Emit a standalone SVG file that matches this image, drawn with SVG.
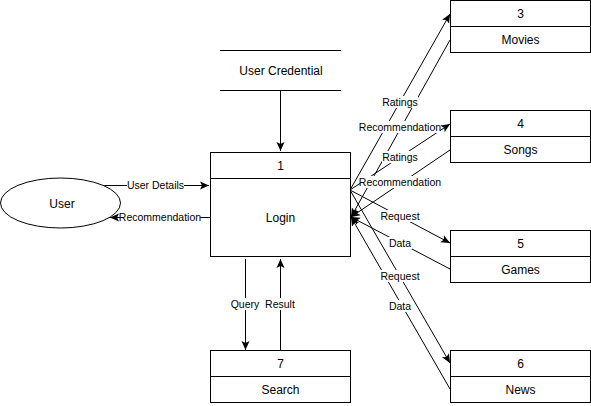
<svg xmlns="http://www.w3.org/2000/svg" width="591" height="406" viewBox="0 0 591 406">
<defs>
<marker id="arr" markerWidth="10" markerHeight="10" viewBox="0 0 10 10" refX="9" refY="5" orient="auto" markerUnits="userSpaceOnUse">
<path d="M0,1 L9,5 L0,9 L2,5 Z" fill="#000"/>
</marker>
</defs>
<style>
.box{fill:#fff;stroke:#000;stroke-width:1}
.ln{stroke:#000;stroke-width:1;fill:none}
.t{font-family:"Liberation Sans",Arial,sans-serif;font-size:12px;fill:#000;text-anchor:middle}
.lb{font-family:"Liberation Sans",Arial,sans-serif;font-size:10.5px;fill:#000;text-anchor:middle}
.bg{fill:#fff}
.c{stroke:#000;stroke-width:1;fill:none;marker-end:url(#arr)}
</style>
<rect width="591" height="406" fill="#fff"/>

<g id="connectors">
<line class="c" x1="101" y1="185.5" x2="209" y2="185.5"/>
<line class="c" x1="210" y1="217.5" x2="110" y2="217.5"/>
<line class="c" x1="280.5" y1="90" x2="280.5" y2="151"/>
<line class="c" x1="245.5" y1="259" x2="245.5" y2="350"/>
<line class="c" x1="280.5" y1="350" x2="280.5" y2="259"/>
<line class="c" x1="350" y1="190" x2="450" y2="14"/>
<line class="c" x1="450" y1="40" x2="351" y2="217"/>
<line class="c" x1="350" y1="190" x2="450" y2="124"/>
<line class="c" x1="450" y1="150" x2="351" y2="217"/>
<line class="c" x1="350" y1="190" x2="450" y2="243"/>
<line class="c" x1="450" y1="269" x2="351" y2="217"/>
<line class="c" x1="350" y1="190" x2="450" y2="363"/>
<line class="c" x1="450" y1="389" x2="351" y2="217"/>

<g id="labels">
<rect class="bg" x="127" y="179" width="57" height="12"/>
<text class="lb" x="155.5" y="189">User Details</text>
<rect class="bg" x="120" y="211" width="80" height="12"/>
<text class="lb" x="160" y="221">Recommendation</text>
<rect class="bg" x="231" y="298" width="28" height="12"/>
<text class="lb" x="245" y="308">Query</text>
<rect class="bg" x="265" y="298" width="30" height="12"/>
<text class="lb" x="280" y="308">Result</text>
<rect class="bg" x="382" y="96" width="36" height="12"/>
<text class="lb" x="400" y="106">Ratings</text>
<rect class="bg" x="360" y="121" width="80" height="12"/>
<text class="lb" x="400" y="131">Recommendation</text>
<rect class="bg" x="382" y="151" width="36" height="12"/>
<text class="lb" x="400" y="161">Ratings</text>
<rect class="bg" x="360" y="176" width="80" height="12"/>
<text class="lb" x="400" y="186">Recommendation</text>
<rect class="bg" x="380" y="210" width="40" height="12"/>
<text class="lb" x="400" y="220">Request</text>
<rect class="bg" x="388" y="237" width="24" height="12"/>
<text class="lb" x="400" y="247">Data</text>
<rect class="bg" x="380" y="270" width="40" height="12"/>
<text class="lb" x="400" y="280">Request</text>
<rect class="bg" x="388" y="300" width="24" height="12"/>
<text class="lb" x="400" y="310">Data</text>
</g>
</g>

<g id="user">
<ellipse class="box" cx="60.5" cy="203" rx="60" ry="25"/>
<text class="t" x="62" y="207.5">User</text>
</g>

<g id="user-credential">
<line class="ln" x1="220" y1="50.5" x2="341" y2="50.5"/>
<line class="ln" x1="220" y1="90.5" x2="341" y2="90.5"/>
<text class="t" x="281" y="74.5">User Credential</text>
</g>

<g id="login">
<rect class="box" x="210.5" y="152.5" width="140" height="104"/>
<line class="ln" x1="210.5" y1="178.5" x2="350.5" y2="178.5"/>
<text class="t" x="280.5" y="170">1</text>
<text class="t" x="280.5" y="222">Login</text>
</g>

<g id="search">
<rect class="box" x="210.5" y="350.5" width="140" height="52"/>
<line class="ln" x1="210.5" y1="376.5" x2="350.5" y2="376.5"/>
<text class="t" x="280.5" y="368">7</text>
<text class="t" x="280.5" y="394">Search</text>
</g>

<g id="movies">
<rect class="box" x="450.5" y="0.5" width="140" height="52"/>
<line class="ln" x1="450.5" y1="26.5" x2="590.5" y2="26.5"/>
<text class="t" x="520.5" y="18">3</text>
<text class="t" x="520.5" y="44">Movies</text>
</g>

<g id="songs">
<rect class="box" x="450.5" y="110.5" width="140" height="52"/>
<line class="ln" x1="450.5" y1="136.5" x2="590.5" y2="136.5"/>
<text class="t" x="520.5" y="128">4</text>
<text class="t" x="520.5" y="154">Songs</text>
</g>

<g id="games">
<rect class="box" x="450.5" y="230.5" width="140" height="52"/>
<line class="ln" x1="450.5" y1="256.5" x2="590.5" y2="256.5"/>
<text class="t" x="520.5" y="248">5</text>
<text class="t" x="520.5" y="274">Games</text>
</g>

<g id="news">
<rect class="box" x="450.5" y="350.5" width="140" height="52"/>
<line class="ln" x1="450.5" y1="376.5" x2="590.5" y2="376.5"/>
<text class="t" x="520.5" y="368">6</text>
<text class="t" x="520.5" y="394">News</text>
</g>
</svg>
